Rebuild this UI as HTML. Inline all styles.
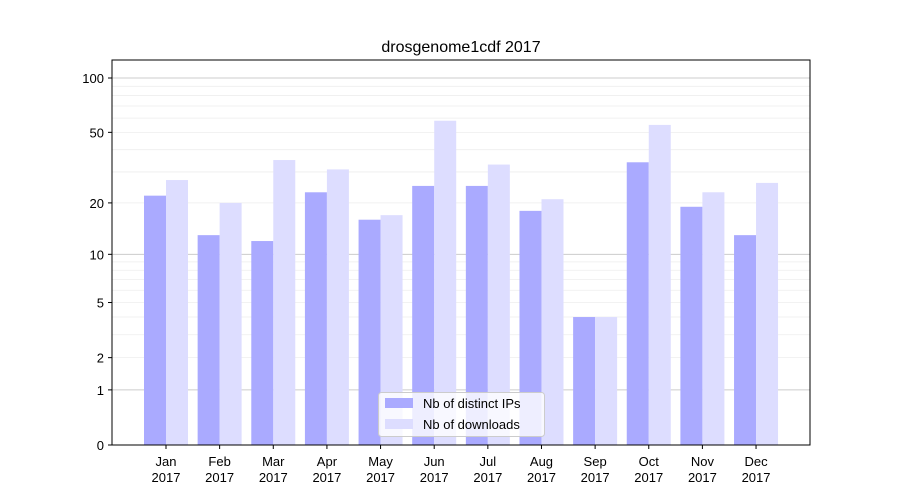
<!DOCTYPE html>
<html><head><meta charset="utf-8"><style>
body{margin:0;background:#fff;}
svg{display:block;font-family:"Liberation Sans",sans-serif;}
</style></head><body>
<svg id="chart" width="900" height="500">
<rect x="0" y="0" width="900" height="500" fill="#fff"/>
<text x="461" y="52" text-anchor="middle" font-size="16">drosgenome1cdf 2017</text>
<g id="grid"></g><g id="bars"></g><g id="axes"></g>
<rect x="112" y="60" width="698" height="385" fill="none" stroke="#000" stroke-width="1"/>
<g>
<rect x="378.5" y="392.5" width="166" height="44" rx="3" fill="#fff" fill-opacity="0.8" stroke="#ccc"/>
<rect x="385" y="398" width="28" height="10" fill="#aaaaff"/>
<text x="423" y="408" font-size="13">Nb of distinct IPs</text>
<rect x="385" y="419" width="28" height="10" fill="#ddddff"/>
<text x="423" y="429" font-size="13">Nb of downloads</text>
</g>
</svg>
<script>
const months=["Jan","Feb","Mar","Apr","May","Jun","Jul","Aug","Sep","Oct","Nov","Dec"];
const ips=[22,13,12,23,16,25,25,18,4,34,19,13];
const downloads=[27,20,35,31,17,58,33,21,4,55,23,26];
const yTicks=[0,1,2,5,10,20,50,100];
const NS="http://www.w3.org/2000/svg";
function y(v){return 445-183.1*Math.log10(1+v);}
function x(i){return 166+i*53.64;}
function mk(tag,attrs,parent){const e=document.createElementNS(NS,tag);for(const k in attrs)e.setAttribute(k,attrs[k]);parent.appendChild(e);return e;}
const grid=document.getElementById('grid'),bars=document.getElementById('bars'),axes=document.getElementById('axes');
// minor grid
for(const d of [1,10]){for(let m=2;m<=9;m++){const v=d*m;const gy=y(v);
const l=mk('line',{x1:112,x2:810,y1:gy,y2:gy,stroke:'#eeeeee','stroke-width':0.8},grid);
}}
for(const v of [1,10,100]){const gy=y(v);
const l=mk('line',{x1:112,x2:810,y1:gy,y2:gy,stroke:'#cccccc','stroke-width':1},grid);
}
months.forEach((m,i)=>{
const b1=mk('rect',{x:x(i)-22,y:y(ips[i]),width:22,height:445-y(ips[i]),fill:'#aaaaff'},bars);


const b2=mk('rect',{x:x(i),y:y(downloads[i]),width:22,height:445-y(downloads[i]),fill:'#ddddff'},bars);


mk('line',{x1:x(i),x2:x(i),y1:445,y2:449,stroke:'#000'},axes);
const t=mk('text',{x:x(i),y:466,'text-anchor':'middle','font-size':13},axes);


t.textContent=m;
const t2=mk('text',{x:x(i),y:482,'text-anchor':'middle','font-size':13},axes);


t2.textContent='2017';
});
yTicks.forEach(v=>{const gy=y(v);
mk('line',{x1:108,x2:112,y1:gy,y2:gy,stroke:'#000'},axes);
const t=mk('text',{x:104,y:gy+5,'text-anchor':'end','font-size':13},axes);


t.textContent=v;});
</script>
</body></html>
